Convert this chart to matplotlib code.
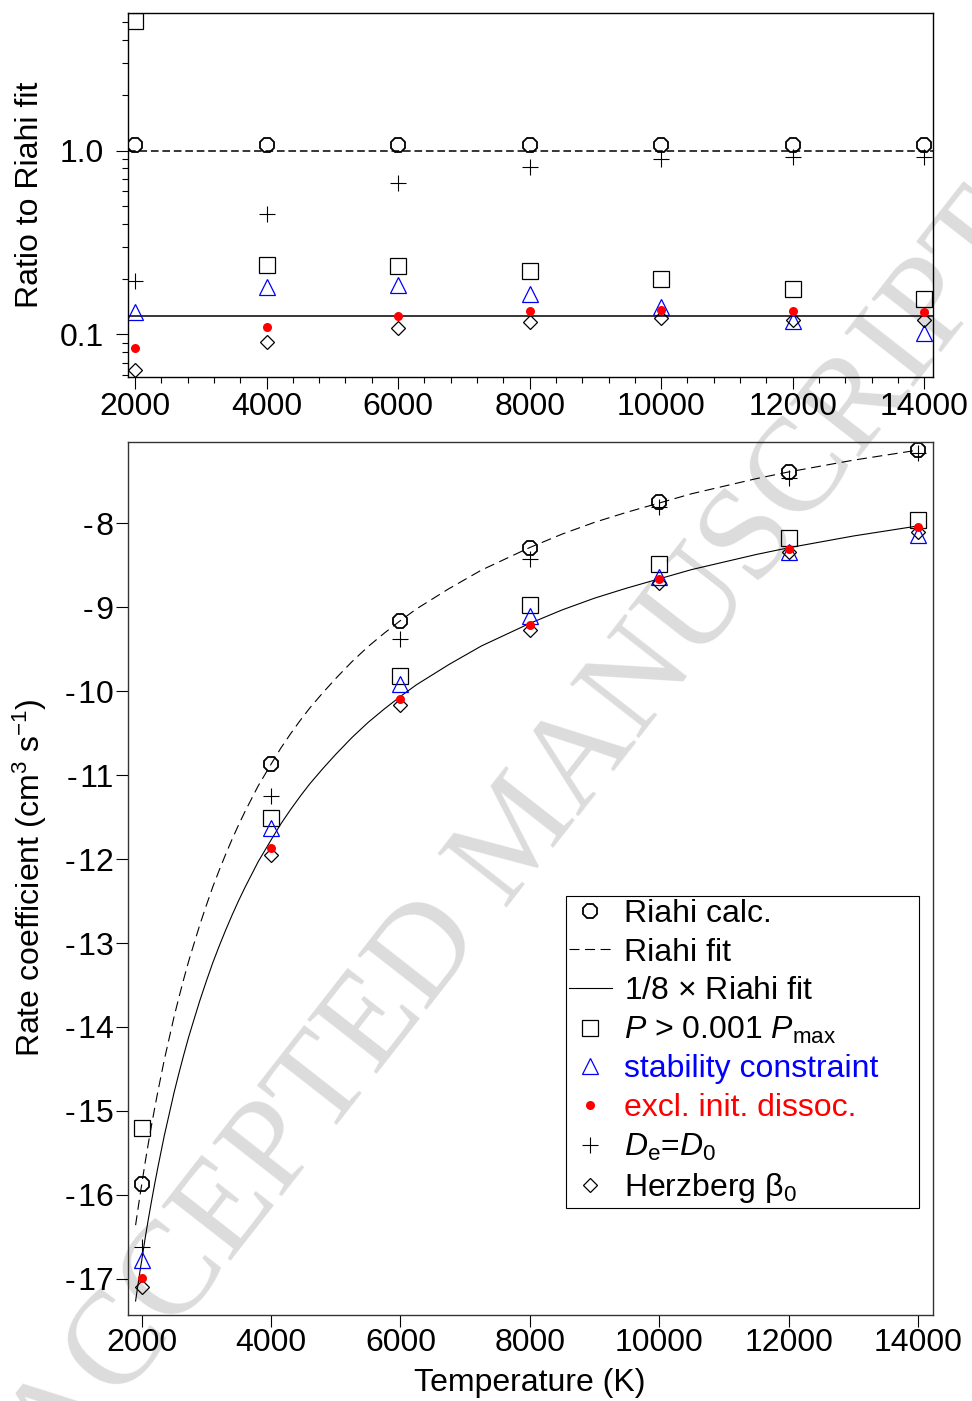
import numpy as np
import matplotlib
matplotlib.use("Agg")
import matplotlib.pyplot as plt
from matplotlib.ticker import FixedLocator, MultipleLocator, LogLocator, NullFormatter, FuncFormatter

plt.rcParams['font.family'] = ['Liberation Sans', 'DejaVu Sans']
plt.rcParams['mathtext.fontset'] = 'custom'
plt.rcParams['mathtext.rm'] = 'Liberation Sans'
plt.rcParams['mathtext.it'] = 'Liberation Sans:italic'
plt.rcParams['mathtext.bf'] = 'Liberation Sans:bold'

temps = [2000, 4000, 6000, 8000, 10000, 12000, 14000]

# ratio of each calculation to the Riahi fit
ratio_calc = [1.07, 1.07, 1.075, 1.075, 1.075, 1.075, 1.075]
ratio_pmax = [5.07, 0.238, 0.236, 0.222, 0.199, 0.176, 0.156]
ratio_stab = [0.132, 0.182, 0.186, 0.166, 0.140, 0.118, 0.101]
ratio_excl = [0.0845, 0.110, 0.126, 0.1345, 0.135, 0.134, 0.132]
ratio_de_d0 = [0.195, 0.452, 0.67, 0.818, 0.898, 0.927, 0.927]
ratio_herz = [0.064, 0.0904, 0.108, 0.117, 0.122, 0.120, 0.120]

# log10 of the rate coefficient (cm^3 s^-1)
logk_calc = [-15.875, -10.868, -9.16, -8.29, -7.75, -7.39, -7.127]
logk_pmax = [-15.20, -11.515, -9.82, -8.973, -8.49, -8.175, -7.96]
logk_stab = [-16.78, -11.634, -9.92, -9.10, -8.636, -8.34, -8.14]
logk_excl = [-16.99, -11.865, -10.10, -9.21, -8.66, -8.31, -8.04]
logk_de_d0 = [-16.62, -11.245, -9.38, -8.43, -7.81, -7.457, -7.166]
logk_herz = [-17.095, -11.95, -10.17, -9.27, -8.715, -8.345, -8.10]

# Riahi fit, sampled along the curve
fit_temps = [1906, 1925, 1950, 1975, 2000, 2050, 2100, 2150, 2200, 2250, 2300,
             2350, 2400, 2450, 2500, 2575, 2650, 2725, 2800, 2900, 3000, 3100,
             3200, 3300, 3400, 3500, 3600, 3700, 3800, 3900, 4000, 4150, 4300,
             4450, 4600, 4800, 5000, 5250, 5500, 5750, 6000, 6250, 6500, 6750,
             7000, 7250, 7500, 8000, 8500, 9000, 9500, 10000, 10500, 11000,
             11500, 12000, 12500, 13000, 13500, 14000]
fit_logk = [-16.36, -16.26, -16.13, -16.00, -15.88, -15.63, -15.40, -15.18,
            -14.97, -14.77, -14.58, -14.39, -14.22, -14.05, -13.88, -13.65,
            -13.43, -13.22, -13.03, -12.78, -12.55, -12.33, -12.13, -11.94,
            -11.76, -11.59, -11.43, -11.28, -11.13, -11.00, -10.87, -10.68,
            -10.51, -10.35, -10.20, -10.02, -9.85, -9.65, -9.47, -9.31, -9.16,
            -9.02, -8.90, -8.78, -8.67, -8.56, -8.47, -8.29, -8.13, -7.99,
            -7.87, -7.76, -7.65, -7.56, -7.47, -7.39, -7.32, -7.25, -7.19,
            -7.13]
eighth = 1 / 8
eighth_logk = [v + np.log10(eighth) for v in fit_logk]

FS = 23
W, H = 972, 1401
fig = plt.figure(figsize=(W / 100, H / 100), dpi=100)
fig.patch.set_facecolor('white')


def fig_box(x0, y0, x1, y1):
    return [x0 / W, 1 - y1 / H, (x1 - x0) / W, (y1 - y0) / H]


ax1 = fig.add_axes(fig_box(127.7, 13.3, 932.7, 377))
ax2 = fig.add_axes(fig_box(127.7, 441.7, 932.7, 1315))

# watermark behind both panels
fig.text(522 / W, 1 - 836 / H, 'ACCEPTED MANUSCRIPT', rotation=52, rotation_mode='anchor',
         ha='center', va='center', fontsize=96, family='Liberation Serif',
         color='#dcdcdc', zorder=-1)

styles = dict(
    calc=dict(marker='8', ms=11.5, mfc='none', mec='black', mew=1.3, ls='none'),
    pmax=dict(marker='s', ms=11.5, mfc='none', mec='black', mew=0.9, ls='none'),
    stab=dict(marker='^', ms=11, mfc='none', mec='blue', mew=0.9, ls='none'),
    herz=dict(marker='D', ms=7.5, mfc='none', mec='black', mew=0.9, ls='none'),
    excl=dict(marker='o', ms=6.5, mfc='red', mec='red', mew=0, ls='none'),
    de=dict(marker='+', ms=11, mec='black', mew=0.8, ls='none'),
)

# ---- top panel: ratios
ax1.set_facecolor('none')
ax1.axhline(1.0, color='black', lw=1.1, dashes=(5, 2.5))
ax1.axhline(eighth, color='black', lw=1.1)
ax1.plot(temps, ratio_calc, **styles['calc'])
ax1.plot(temps, ratio_de_d0, **styles['de'])
ax1.plot(temps, ratio_pmax, **styles['pmax'])
ax1.plot(temps, ratio_stab, **styles['stab'])
ax1.plot(temps, ratio_herz, **styles['herz'])
ax1.plot(temps, ratio_excl, **styles['excl'])
ax1.set_yscale('log')
ax1.set_xlim(1889, 14128)
ax1.set_ylim(0.0585, 5.6)
ax1.yaxis.set_major_locator(FixedLocator([0.1, 1.0]))
ax1.yaxis.set_major_formatter(FuncFormatter(lambda v, p: f"{v:.1f}"))
ax1.yaxis.set_minor_locator(LogLocator(base=10, subs=np.arange(2, 10)))
ax1.yaxis.set_minor_formatter(NullFormatter())
ax1.xaxis.set_major_locator(MultipleLocator(2000))
ax1.xaxis.set_minor_locator(MultipleLocator(400))
ax1.tick_params(axis='both', which='major', direction='out', length=8.5, width=0.8,
                labelsize=FS)
ax1.tick_params(axis='both', which='minor', direction='out', length=4, width=0.8)
ax1.tick_params(axis='y', which='major', pad=8.5)
ax1.tick_params(axis='x', which='major', pad=2)
for s in ax1.spines.values():
    s.set_linewidth(1.0)

# ---- bottom panel: rate coefficients
ax2.set_facecolor('none')
fit_line, = ax2.plot(fit_temps, fit_logk, color='black', lw=0.8, dashes=(9, 5),
                     label='Riahi fit')
eighth_line, = ax2.plot(fit_temps, eighth_logk, color='black', lw=0.8,
                        label=r'1/8 $\times$ Riahi fit')
h_calc, = ax2.plot(temps, logk_calc, label='Riahi calc.', **styles['calc'])
h_de, = ax2.plot(temps, logk_de_d0, label=r'$D_{\rm e}$=$D_0$', **styles['de'])
h_pmax, = ax2.plot(temps, logk_pmax, label=r'$P$ > 0.001 $P_{\rm max}$', **styles['pmax'])
h_stab, = ax2.plot(temps, logk_stab, label='stability constraint', **styles['stab'])
h_herz, = ax2.plot(temps, logk_herz, label=r'Herzberg β$_0$', **styles['herz'])
h_excl, = ax2.plot(temps, logk_excl, label='excl. init. dissoc.', **styles['excl'])

ax2.set_xlim(1784, 14227)
ax2.set_ylim(-17.43, -7.03)
ax2.xaxis.set_major_locator(MultipleLocator(2000))
ax2.yaxis.set_major_locator(FixedLocator(list(range(-17, -7))))
ax2.yaxis.set_major_formatter(FuncFormatter(lambda v, p: f"-\u200a{abs(int(round(v)))}"))
ax2.tick_params(axis='both', which='major', direction='out', length=8.5, width=0.8,
                labelsize=FS)
ax2.tick_params(axis='y', which='major', pad=1.5)
ax2.tick_params(axis='x', which='major', pad=1)
for s in ax2.spines.values():
    s.set_linewidth(1.0)
    s.set_color('#333333')

handles = [h_calc, fit_line, eighth_line, h_pmax, h_stab, h_excl, h_de, h_herz]
leg_x0 = (566 - 127.7) / 805
leg_x1 = (919 - 127.7) / 805
leg = ax2.legend(handles=handles, loc='lower left', mode='expand',
                 bbox_to_anchor=(leg_x0, 0.1225, leg_x1 - leg_x0, 0.35),
                 borderaxespad=0, fontsize=FS, frameon=True, fancybox=False,
                 edgecolor='black', framealpha=1, handlelength=1.35,
                 handletextpad=0.4, borderpad=0.08, labelspacing=0.27)
leg.get_frame().set_linewidth(0.8)
leg.get_texts()[4].set_color('blue')
leg.get_texts()[5].set_color('red')

fig.text(30 / W, 1 - 195 / H, 'Ratio to Riahi fit', rotation=90,
         ha='center', va='center', fontsize=FS)
fig.text(30 / W, 1 - 878 / H, r'Rate coefficient (cm$^3$ s$^{-1}$)', rotation=90,
         ha='center', va='center', fontsize=FS)
fig.text(530 / W, 1 - 1383 / H, 'Temperature (K)', ha='center', va='center',
         fontsize=FS)

fig.savefig('out.png', dpi=100, facecolor='white')
